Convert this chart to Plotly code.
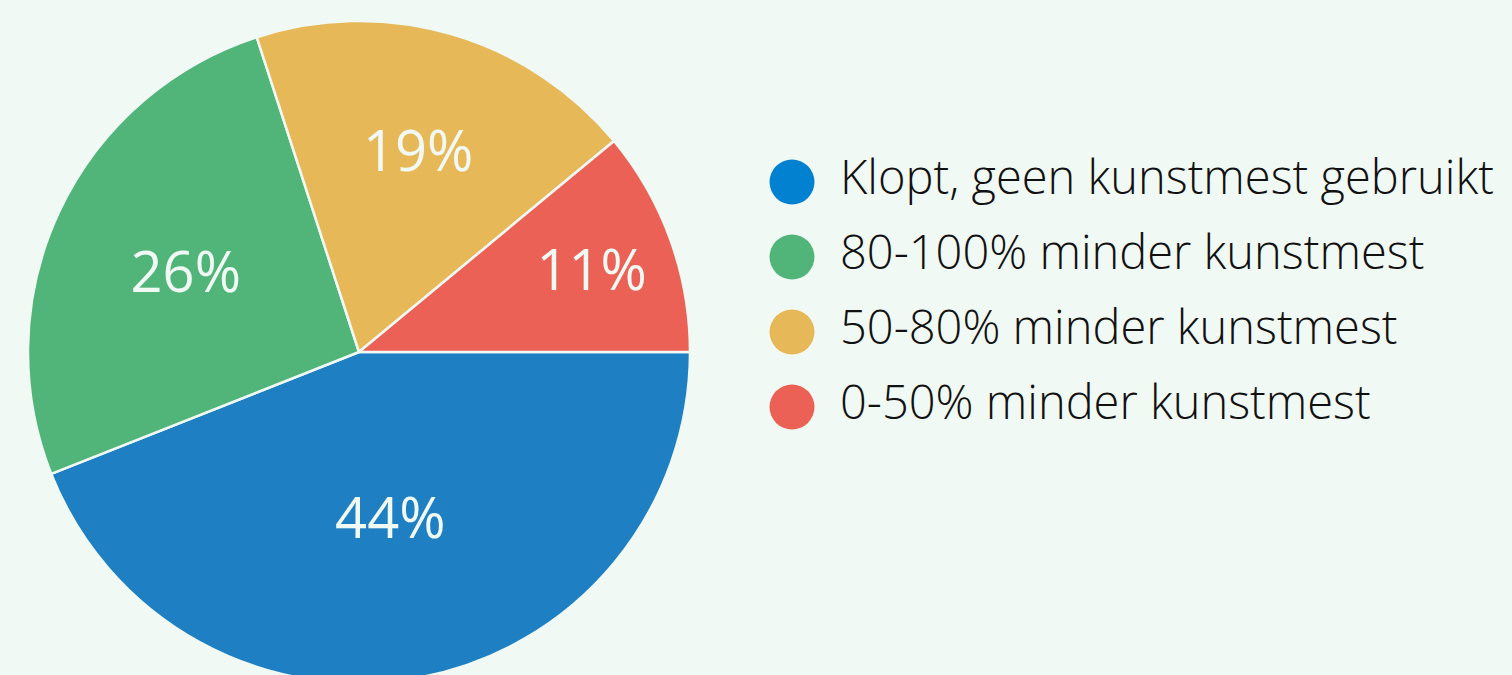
import plotly.graph_objects as go

categories = ["Klopt, geen kunstmest gebruikt", "80-100% minder kunstmest",
              "50-80% minder kunstmest", "0-50% minder kunstmest"]
values = [44, 26, 19, 11]
pie_colors = ["#1e7fc2", "#51b57a", "#e7b858", "#ec6155"]
legend_colors = ["#0281d0", "#51b57a", "#e7b858", "#ec6155"]

BG = "#f1f9f5"
W, H = 1512, 700
FONT = "Open Sans"

fig = go.Figure()

# pie: centre (359, 352), radius 331 in pixels
cx, cy, r = 359, 352, 331
fig.add_trace(go.Pie(
    labels=categories, values=values, sort=False, direction="clockwise", rotation=90,
    marker=dict(colors=pie_colors, line=dict(color=BG, width=2.5)),
    texttemplate="%{percent:.0%}", textinfo="percent", textposition="inside",
    insidetextorientation="horizontal",
    textfont=dict(family=FONT, size=56, color=BG, weight=400),
    domain=dict(x=[(cx - r) / W, (cx + r) / W], y=[(H - cy - r) / H, (H - cy + r) / H]),
    showlegend=False, hoverinfo="label+percent",
))

idx = list(range(len(categories)))
fig.add_trace(go.Scatter(
    x=[36] * len(categories), y=idx, mode="markers",
    marker=dict(size=45, color=legend_colors, line=dict(width=0)),
    xaxis="x", yaxis="y", showlegend=False, hoverinfo="skip",
))
fig.add_trace(go.Scatter(
    x=[84] * len(categories), y=idx, mode="text", text=categories,
    textposition="middle right",
    textfont=dict(family=FONT, size=47, color="#111111", weight=300),
    xaxis="x", yaxis="y", showlegend=False, hoverinfo="skip",
))

step = 75.0
top = -182 / step
fig.update_layout(
    width=W, height=H,
    margin=dict(l=0, r=0, t=0, b=0),
    paper_bgcolor=BG, plot_bgcolor=BG,
    xaxis=dict(domain=[756 / W, 1], range=[0, 756], visible=False, fixedrange=True),
    yaxis=dict(domain=[0, 1], range=[top + H / step, top], visible=False, fixedrange=True),
    showlegend=False,
)

fig.write_html("out.html", config={"displayModeBar": False},
               post_script="document.body.style.margin='0';document.body.style.overflow='hidden';document.documentElement.style.overflow='hidden';")
